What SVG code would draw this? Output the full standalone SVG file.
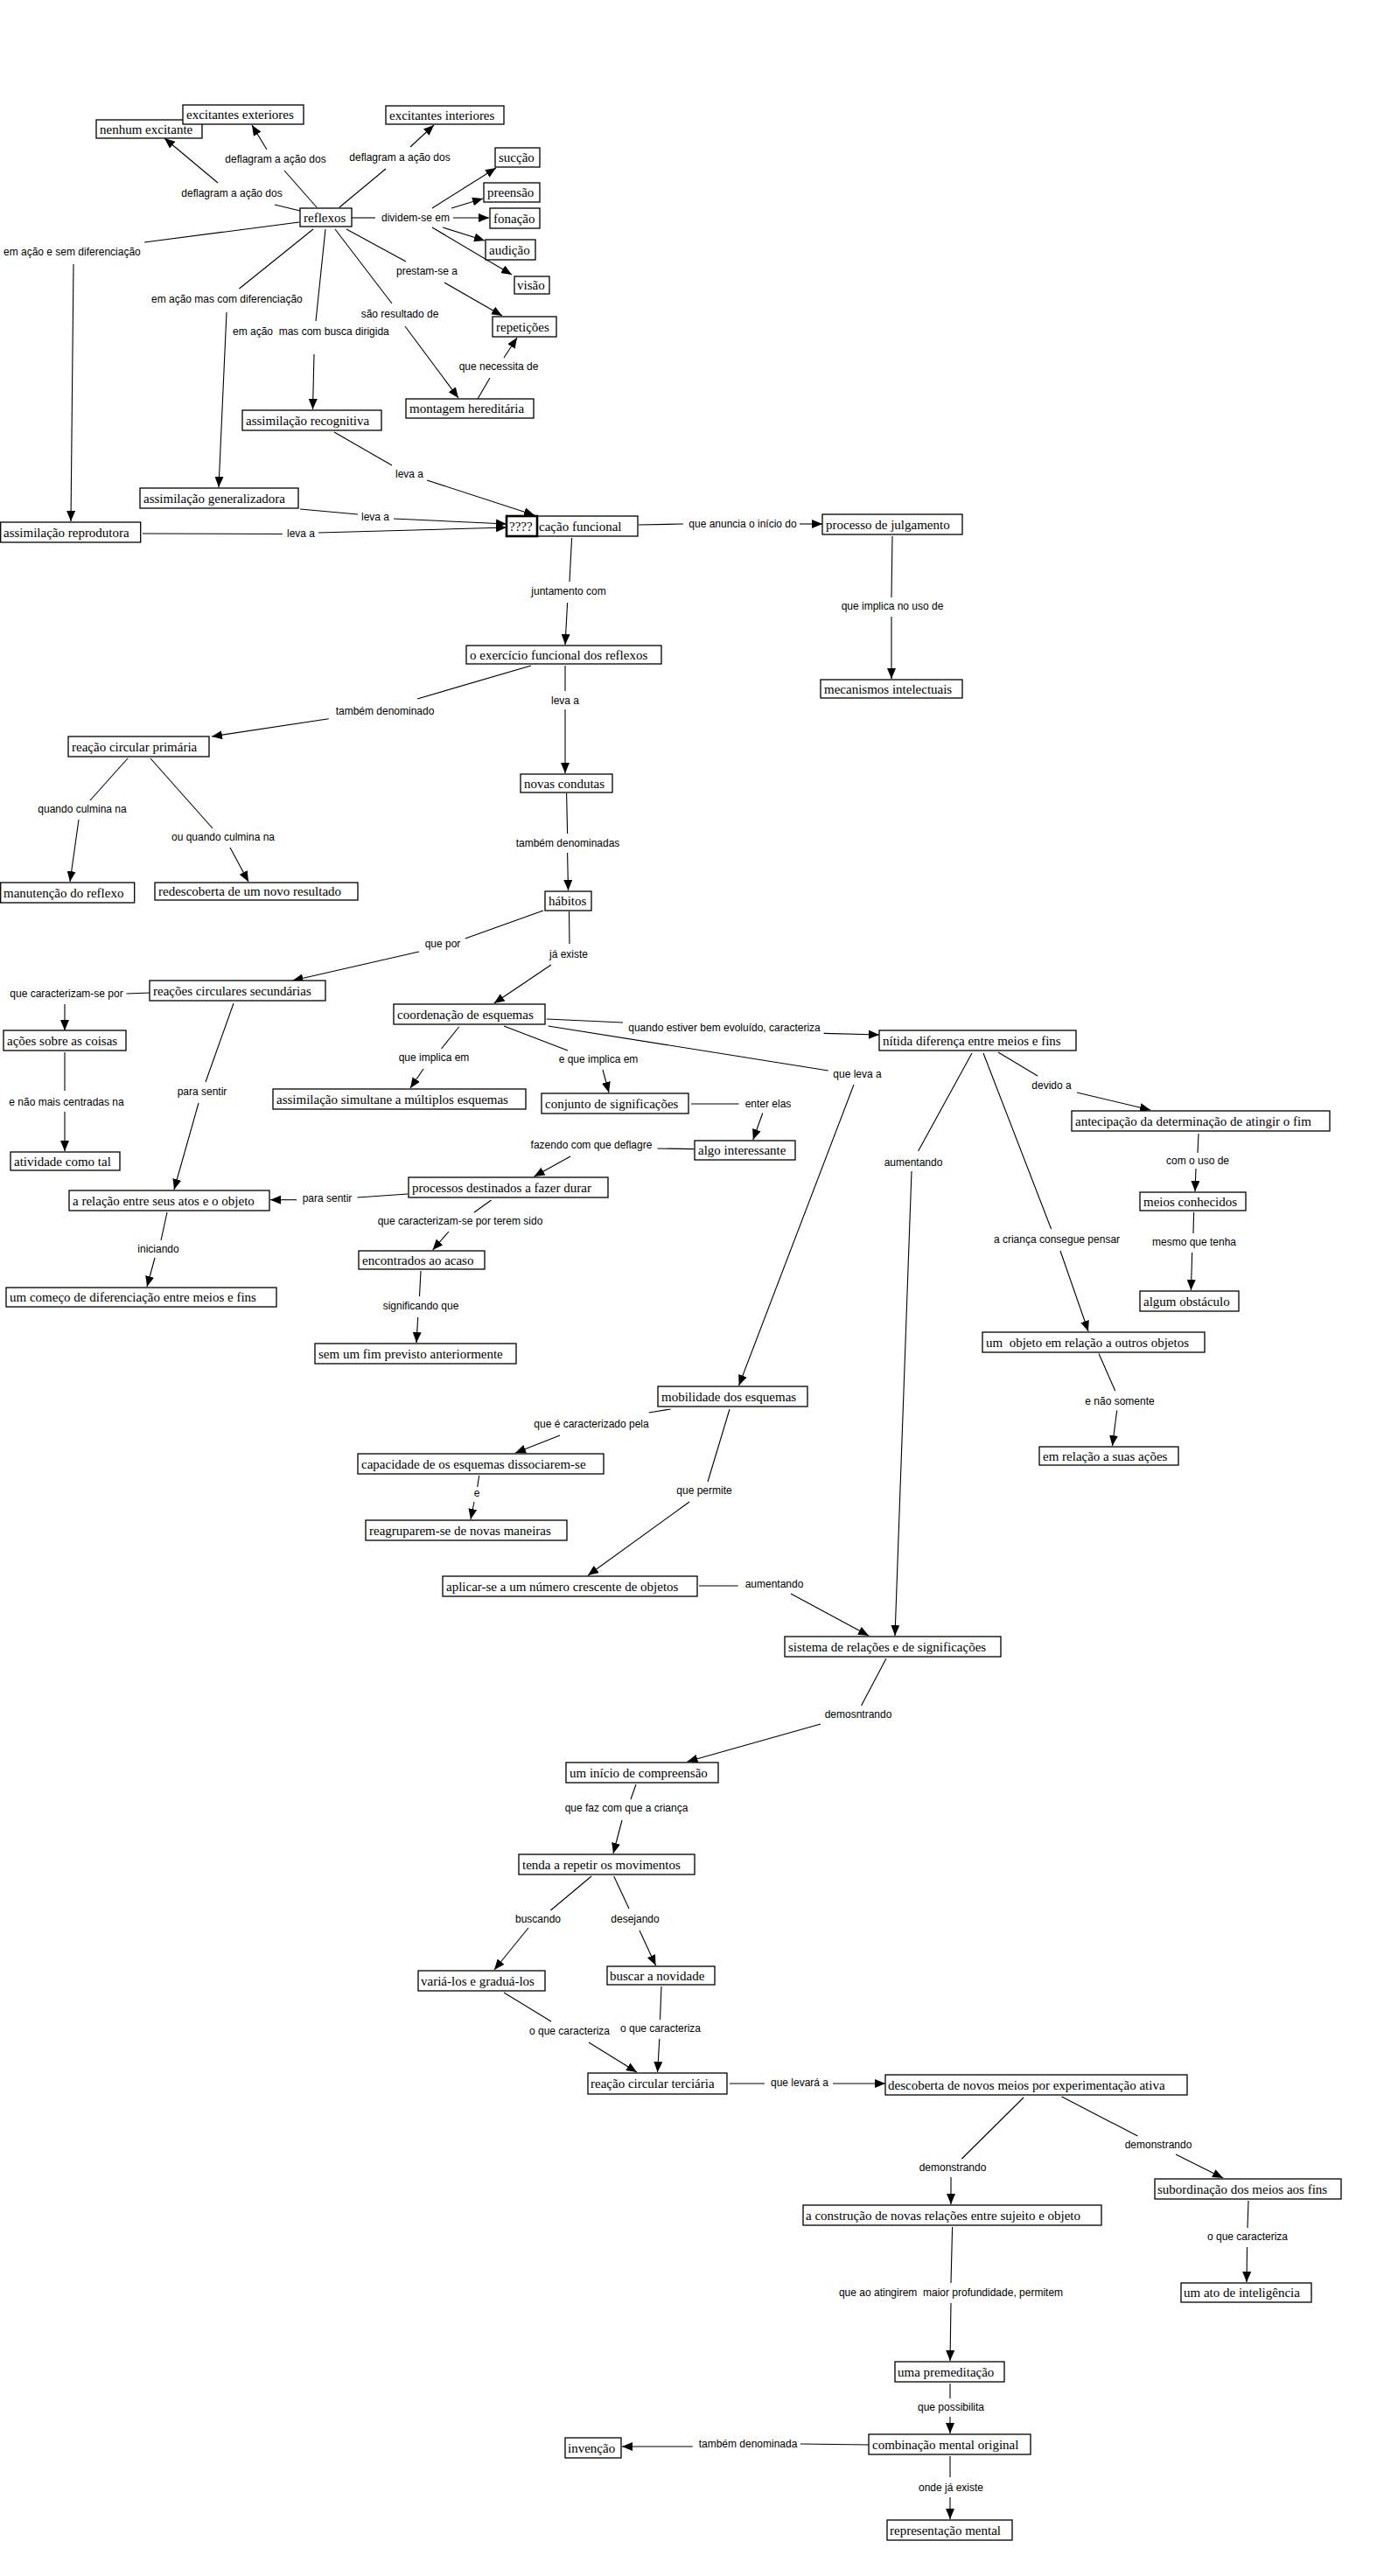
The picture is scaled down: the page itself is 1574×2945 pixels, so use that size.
<svg xmlns="http://www.w3.org/2000/svg" width="1574" height="2945" viewBox="0 0 1574 2945">
<style>
.n rect{fill:#fff;stroke:#000;stroke-width:1.3}
.n text{font-family:"Liberation Serif","Times New Roman",serif;font-size:15px;fill:#000}
.c path{fill:none;stroke:#000;stroke-width:1.1}
.c path.a{marker-end:url(#a)}
.lb text{font-family:"Liberation Sans",Arial,sans-serif;font-size:12px;fill:#000;text-anchor:middle}
.lb text.s{text-anchor:start}
</style>
<defs>
<marker id="a" viewBox="0 0 12 10" refX="12" refY="5" markerWidth="12" markerHeight="10" markerUnits="userSpaceOnUse" orient="auto"><path d="M0,0 L12,5 L0,10 z" fill="#000"/></marker>
</defs>
<rect width="1574" height="2945" fill="#fff"/>
<g class="c" id="connectors">
<path d="M343,241 L314,234"/><path class="a" d="M249,209 L188,158"/>
<path d="M362,237 L325,195"/><path class="a" d="M305,171 L288,143"/>
<path d="M388,237 L441,193"/><path class="a" d="M469,168 L496,143"/>
<path d="M402,249 L429,249"/>
<path class="a" d="M494,238 L567,192"/><path class="a" d="M516,238 L552,227"/><path class="a" d="M518,249 L559,249"/><path class="a" d="M506,260 L554,275"/><path class="a" d="M494,260 L585,314"/>
<path d="M396,262 L464,299"/><path class="a" d="M508,323 L574,361"/>
<path d="M383,262 L448,347"/><path class="a" d="M463,373 L524,455"/>
<path d="M546,456 L560,432"/><path class="a" d="M576,409 L591,386"/>
<path d="M342,254 L165,277"/><path class="a" d="M84,302 L81,596"/>
<path d="M358,262 L273.5,330"/><path class="a" d="M259,357 L250,557"/>
<path d="M372,262 L361,367"/><path class="a" d="M359,405 L357.5,468"/>
<path d="M382,494 L448,532"/><path class="a" d="M488,549 L611,589"/>
<path d="M343,582 L409,588"/><path class="a" d="M450,593 L579,599"/>
<path d="M163,610 L323,610.5"/><path class="a" d="M364,609 L579,603"/>
<path d="M730,600 L781,599"/><path class="a" d="M914,599 L940,599"/>
<path d="M653.6,615 L651,665"/><path class="a" d="M648.6,689 L646,737"/>
<path d="M1020,613 L1019,683"/><path class="a" d="M1019,705 L1019,776"/>
<path d="M607,761 L477,799"/><path class="a" d="M375.7,821.7 L242,842"/>
<path d="M646,761 L646,790"/><path class="a" d="M646,811 L646,884"/>
<path d="M146,867 L103,915"/><path class="a" d="M90,937 L80,1008"/>
<path d="M172,867 L243,947"/><path class="a" d="M263,969 L284,1008"/>
<path d="M647.6,907 L648.6,953"/><path class="a" d="M648.6,975 L649.5,1018"/>
<path d="M621,1041 L531.7,1073"/><path class="a" d="M479,1088 L334.5,1121"/>
<path d="M650.5,1042 L651,1079"/><path class="a" d="M630,1103 L564.7,1147"/>
<path d="M171.6,1135 L144.5,1136"/><path class="a" d="M74,1148 L74,1178"/>
<path d="M74,1203 L74,1247"/><path class="a" d="M74,1271 L74,1316"/>
<path d="M267,1147 L235,1237"/><path class="a" d="M227,1261 L199,1360"/>
<path d="M466,1365 L408.5,1369"/><path class="a" d="M339,1371.7 L309,1371.7"/>
<path d="M191,1386 L184,1418"/><path class="a" d="M177,1438 L168,1471"/>
<path d="M524.6,1174 L504.5,1199"/><path class="a" d="M484,1222 L469,1244"/>
<path d="M561.6,1372 L542,1386"/><path class="a" d="M513,1408 L494.6,1429"/>
<path d="M481,1453 L479.5,1482"/><path class="a" d="M477.7,1506 L476,1535"/>
<path d="M624.7,1165 L712,1169"/><path class="a" d="M941.6,1181.4 L1005,1183"/>
<path d="M576,1173 L649,1201"/><path class="a" d="M689,1223 L696,1249"/>
<path d="M626.6,1173 L946.8,1224"/><path class="a" d="M976,1240 L844.6,1584"/>
<path d="M790,1262 L844.6,1262"/><path class="a" d="M871.8,1272.5 L860.8,1303"/>
<path d="M793,1313.6 L751.5,1313"/><path class="a" d="M652,1322 L610.5,1345"/>
<path d="M1141,1203 L1186,1230"/><path class="a" d="M1231,1249 L1315,1269"/>
<path d="M1111,1204 L1049.6,1316"/><path class="a" d="M1042,1339 L1023,1870"/>
<path d="M1124,1204 L1201.6,1405"/><path class="a" d="M1212,1430 L1244,1522"/>
<path d="M1370,1296 L1369,1318"/><path class="a" d="M1367,1336 L1366,1362"/>
<path d="M1364.6,1386 L1364,1410"/><path class="a" d="M1362.7,1432 L1361.4,1475"/>
<path d="M1256,1547.5 L1274.7,1590"/><path class="a" d="M1276.7,1612.5 L1271.5,1653"/>
<path d="M766.6,1611 L741.7,1615"/><path class="a" d="M640,1641 L589,1661"/>
<path d="M547.7,1687 L545.7,1700"/><path class="a" d="M542,1717 L538,1737"/>
<path d="M834,1611 L809,1694"/><path class="a" d="M788,1717 L672,1801"/>
<path d="M799,1813 L843.7,1813"/><path class="a" d="M904,1822 L993,1870"/>
<path d="M1013,1896 L984.5,1950"/><path class="a" d="M938,1971 L785.5,2014"/>
<path d="M727,2040 L721,2057"/><path class="a" d="M711,2081 L701,2119"/>
<path d="M676,2145 L629.4,2184"/><path class="a" d="M604,2204 L565,2252"/>
<path d="M701.7,2145 L719,2182"/><path class="a" d="M731,2207 L749.5,2247"/>
<path d="M576,2278 L630,2311"/><path class="a" d="M673,2335 L728,2369"/>
<path d="M756,2271 L754.5,2309"/><path class="a" d="M753.8,2331 L751.6,2369"/>
<path d="M834,2382 L874,2382"/><path class="a" d="M952,2382 L1012,2382"/>
<path d="M1170,2398 L1099.4,2468"/><path class="a" d="M1087,2489 L1087,2520"/>
<path d="M1213.7,2397 L1300.4,2442"/><path class="a" d="M1344,2463 L1398,2490"/>
<path d="M1427,2516 L1426,2547"/><path class="a" d="M1425.5,2569 L1425,2609"/>
<path d="M1088.6,2546 L1087,2610"/><path class="a" d="M1087,2633 L1086,2699"/>
<path d="M1086,2725 L1086,2742"/><path class="a" d="M1086,2763 L1086,2782"/>
<path d="M993,2795 L915,2794"/><path class="a" d="M791.7,2797 L711,2797"/>
<path d="M1086,2808 L1086,2832"/><path class="a" d="M1086,2855 L1086,2880"/>
</g>
<g class="lb" id="labels">
<text x="265" y="225">deflagram a ação dos</text>
<text x="315" y="186">deflagram a ação dos</text>
<text x="457" y="184">deflagram a ação dos</text>
<text x="475" y="253">dividem-se em</text>
<text x="488" y="314">prestam-se a</text>
<text x="457" y="363">são resultado de</text>
<text x="570" y="423">que necessita de</text>
<text class="s" x="4" y="292">em ação e sem diferenciação</text>
<text class="s" x="173" y="346">em ação mas com diferenciação</text>
<text class="s" x="266" y="383" xml:space="preserve">em ação  mas com busca dirigida</text>
<text x="468" y="546">leva a</text>
<text x="429" y="595">leva a</text>
<text x="344" y="614">leva a</text>
<text x="849" y="603">que anuncia o início do</text>
<text x="650" y="680">juntamento com</text>
<text x="1020" y="697">que implica no uso de</text>
<text x="440" y="817">também denominado</text>
<text x="646" y="805">leva a</text>
<text x="94" y="929">quando culmina na</text>
<text x="255" y="961">ou quando culmina na</text>
<text x="649" y="968">também denominadas</text>
<text x="506" y="1083">que por</text>
<text x="650" y="1095">já existe</text>
<text x="76" y="1140">que caracterizam-se por</text>
<text x="76" y="1264">e não mais centradas na</text>
<text x="231" y="1252">para sentir</text>
<text x="374" y="1374">para sentir</text>
<text x="181" y="1432">iniciando</text>
<text x="496" y="1213">que implica em</text>
<text x="526" y="1400">que caracterizam-se por terem sido</text>
<text x="481" y="1497">significando que</text>
<text x="828" y="1179">quando estiver bem evoluído, caracteriza</text>
<text x="684" y="1215">e que implica em</text>
<text x="980" y="1232">que leva a</text>
<text x="878" y="1266">enter elas</text>
<text x="676" y="1313">fazendo com que deflagre</text>
<text x="1202" y="1245">devido a</text>
<text x="1044" y="1333">aumentando</text>
<text x="1208" y="1421">a criança consegue pensar</text>
<text x="1369" y="1331">com o uso de</text>
<text x="1365" y="1424">mesmo que tenha</text>
<text x="1280" y="1606">e não somente</text>
<text x="676" y="1632">que é caracterizado pela</text>
<text x="545" y="1711">e</text>
<text x="805" y="1708">que permite</text>
<text x="885" y="1815">aumentando</text>
<text x="981" y="1964">demosntrando</text>
<text x="716" y="2071">que faz com que a criança</text>
<text x="615" y="2198">buscando</text>
<text x="726" y="2198">desejando</text>
<text x="651" y="2326">o que caracteriza</text>
<text x="755" y="2323">o que caracteriza</text>
<text x="914" y="2385">que levará a</text>
<text x="1089" y="2482">demonstrando</text>
<text x="1324" y="2456">demonstrando</text>
<text x="1426" y="2561">o que caracteriza</text>
<text x="1087" y="2625" xml:space="preserve">que ao atingirem  maior profundidade, permitem</text>
<text x="1087" y="2756">que possibilita</text>
<text x="855" y="2798">também denominada</text>
<text x="1087" y="2848">onde já existe</text>
</g>
<g class="n" id="n_nenhum"><rect x="110" y="137" width="121" height="21"/><text x="114" y="152.5">nenhum excitante</text></g>
<g class="n" id="n_ext"><rect x="209" y="120" width="138" height="22"/><text x="213" y="136">excitantes exteriores</text></g>
<g class="n" id="n_int"><rect x="441" y="121" width="135" height="21"/><text x="445" y="136.5">excitantes interiores</text></g>
<g class="n" id="n_succao"><rect x="566" y="169" width="51" height="22"/><text x="570" y="185">sucção</text></g>
<g class="n" id="n_preensao"><rect x="553" y="209" width="64" height="22"/><text x="557" y="225">preensão</text></g>
<g class="n" id="n_fonacao"><rect x="560" y="238" width="57" height="23"/><text x="564" y="254.5">fonação</text></g>
<g class="n" id="n_audicao"><rect x="555" y="274" width="57" height="23"/><text x="559" y="290.5">audição</text></g>
<g class="n" id="n_visao"><rect x="588" y="316" width="40" height="20"/><text x="591" y="331">visão</text></g>
<g class="n" id="n_reflexos"><rect x="343" y="238" width="59" height="21"/><text x="347" y="253.5">reflexos</text></g>
<g class="n" id="n_repeticoes"><rect x="563" y="362" width="73" height="23"/><text x="567" y="378.5">repetições</text></g>
<g class="n" id="n_montagem"><rect x="464" y="456" width="146" height="22"/><text x="468" y="472">montagem hereditária</text></g>
<g class="n" id="n_recog"><rect x="277" y="469" width="159" height="23"/><text x="281" y="485.5">assimilação recognitiva</text></g>
<g class="n" id="n_gen"><rect x="160" y="558" width="181" height="23"/><text x="164" y="574.5">assimilação generalizadora</text></g>
<g class="n" id="n_repro"><rect x="0.7" y="597" width="160" height="23"/><text x="4" y="613.5">assimilação reprodutora</text></g>
<g class="n" id="n_funcional"><rect x="579" y="590" width="150" height="23"/><rect x="579" y="590" width="35" height="23" style="stroke-width:2.6"/><text x="582" y="606.5">????</text><text x="616" y="606.5">cação funcional</text></g>
<g class="n" id="n_julg"><rect x="940" y="588" width="160" height="23"/><text x="944" y="604.5">processo de julgamento</text></g>
<g class="n" id="n_exerc"><rect x="533" y="738" width="223" height="21"/><text x="537" y="753.5">o exercício funcional dos reflexos</text></g>
<g class="n" id="n_mec"><rect x="938" y="777" width="162" height="21"/><text x="942" y="792.5">mecanismos intelectuais</text></g>
<g class="n" id="n_primaria"><rect x="78" y="842" width="161" height="23"/><text x="82" y="858.5">reação circular primária</text></g>
<g class="n" id="n_novas"><rect x="595" y="885" width="105" height="21"/><text x="599" y="900.5">novas condutas</text></g>
<g class="n" id="n_manut"><rect x="0.7" y="1009" width="153" height="23"/><text x="4" y="1025.5">manutenção do reflexo</text></g>
<g class="n" id="n_redesc"><rect x="177" y="1009" width="232" height="20"/><text x="181" y="1024">redescoberta de um novo resultado</text></g>
<g class="n" id="n_habitos"><rect x="623" y="1019" width="53" height="22"/><text x="627" y="1035">hábitos</text></g>
<g class="n" id="n_sec"><rect x="171" y="1121" width="201" height="23"/><text x="175" y="1137.5">reações circulares secundárias</text></g>
<g class="n" id="n_acoes"><rect x="4" y="1178" width="140" height="23"/><text x="8" y="1194.5">ações sobre as coisas</text></g>
<g class="n" id="n_coord"><rect x="450" y="1148" width="173" height="23"/><text x="454" y="1164.5">coordenação de esquemas</text></g>
<g class="n" id="n_atividade"><rect x="12" y="1317" width="125" height="21"/><text x="16" y="1332.5">atividade como tal</text></g>
<g class="n" id="n_simult"><rect x="312" y="1245" width="289" height="23"/><text x="316" y="1261.5">assimilação simultane a múltiplos esquemas</text></g>
<g class="n" id="n_conjunto"><rect x="619" y="1250" width="168" height="23"/><text x="623" y="1266.5">conjunto de significações</text></g>
<g class="n" id="n_algo"><rect x="794" y="1304" width="115" height="22"/><text x="798" y="1320">algo interessante</text></g>
<g class="n" id="n_processos"><rect x="467" y="1346" width="228" height="23"/><text x="471" y="1362.5">processos destinados a fazer durar</text></g>
<g class="n" id="n_relacao"><rect x="79" y="1361" width="229" height="23"/><text x="83" y="1377.5">a relação entre seus atos e o objeto</text></g>
<g class="n" id="n_comeco"><rect x="7" y="1472" width="309" height="22"/><text x="11" y="1488">um começo de diferenciação entre meios e fins</text></g>
<g class="n" id="n_encontrados"><rect x="410" y="1430" width="144" height="21"/><text x="414" y="1445.5">encontrados ao acaso</text></g>
<g class="n" id="n_sem"><rect x="360" y="1536" width="230" height="23"/><text x="364" y="1552.5">sem um fim previsto anteriormente</text></g>
<g class="n" id="n_nitida"><rect x="1005" y="1178" width="225" height="23"/><text x="1009" y="1194.5">nítida diferença entre meios e fins</text></g>
<g class="n" id="n_antecip"><rect x="1225" y="1270" width="295" height="23"/><text x="1229" y="1286.5">antecipação da determinação de atingir o fim</text></g>
<g class="n" id="n_meios"><rect x="1303" y="1363" width="121" height="21"/><text x="1307" y="1378.5">meios conhecidos</text></g>
<g class="n" id="n_obstaculo"><rect x="1303" y="1476" width="113" height="23"/><text x="1307" y="1492.5">algum obstáculo</text></g>
<g class="n" id="n_objeto"><rect x="1123" y="1523" width="254" height="23"/><text x="1127" y="1539.5" xml:space="preserve">um  objeto em relação a outros objetos</text></g>
<g class="n" id="n_suas"><rect x="1188" y="1654" width="159" height="21"/><text x="1192" y="1669.5">em relação a suas ações</text></g>
<g class="n" id="n_mobilidade"><rect x="752" y="1585" width="171" height="23"/><text x="756" y="1601.5">mobilidade dos esquemas</text></g>
<g class="n" id="n_capacidade"><rect x="409" y="1662" width="281" height="23"/><text x="413" y="1678.5">capacidade de os esquemas dissociarem-se</text></g>
<g class="n" id="n_reagrup"><rect x="418" y="1738" width="230" height="23"/><text x="422" y="1754.5">reagruparem-se de novas maneiras</text></g>
<g class="n" id="n_aplicar"><rect x="506" y="1802" width="291" height="23"/><text x="510" y="1818.5">aplicar-se a um número crescente de objetos</text></g>
<g class="n" id="n_sistema"><rect x="897" y="1871" width="247" height="23"/><text x="901" y="1887.5">sistema de relações e de significações</text></g>
<g class="n" id="n_inicio"><rect x="647" y="2015" width="174" height="23"/><text x="651" y="2031.5">um início de compreensão</text></g>
<g class="n" id="n_tenda"><rect x="593" y="2120" width="201" height="23"/><text x="597" y="2136.5">tenda a repetir os movimentos</text></g>
<g class="n" id="n_varia"><rect x="478" y="2253" width="145" height="23"/><text x="481" y="2269.5">variá-los e graduá-los</text></g>
<g class="n" id="n_buscar"><rect x="694" y="2248" width="123" height="21"/><text x="697" y="2263.5">buscar a novidade</text></g>
<g class="n" id="n_terciaria"><rect x="672" y="2370" width="159" height="24"/><text x="675" y="2387">reação circular terciária</text></g>
<g class="n" id="n_descoberta"><rect x="1012" y="2372" width="345" height="23"/><text x="1015" y="2388.5">descoberta de novos meios por experimentação ativa</text></g>
<g class="n" id="n_construcao"><rect x="918" y="2521" width="341" height="23"/><text x="921" y="2537.5">a construção de novas relações entre sujeito e objeto</text></g>
<g class="n" id="n_subord"><rect x="1320" y="2491" width="213" height="23"/><text x="1323" y="2507.5">subordinação dos meios aos fins</text></g>
<g class="n" id="n_ato"><rect x="1350" y="2610" width="149" height="22"/><text x="1353" y="2626">um ato de inteligência</text></g>
<g class="n" id="n_premed"><rect x="1023" y="2700" width="125" height="23"/><text x="1026" y="2716.5">uma premeditação</text></g>
<g class="n" id="n_combin"><rect x="993" y="2783" width="185" height="23"/><text x="997" y="2799.5">combinação mental original</text></g>
<g class="n" id="n_invencao"><rect x="646" y="2787" width="64" height="23"/><text x="649" y="2803.5">invenção</text></g>
<g class="n" id="n_repres"><rect x="1014" y="2881" width="143" height="23"/><text x="1017" y="2897.5">representação mental</text></g>
</svg>
